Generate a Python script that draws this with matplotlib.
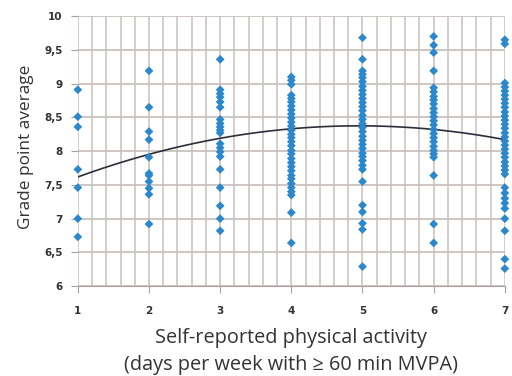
import numpy as np
import matplotlib
matplotlib.use("Agg")
import matplotlib.pyplot as plt
from matplotlib.ticker import MultipleLocator, FuncFormatter

# Data (days per week -> GPA values)
gpa_1 = [8.91, 8.51, 8.36, 7.73, 7.46, 7.00, 6.73]
gpa_2 = [9.19, 8.65, 8.29, 8.17, 7.91, 7.67, 7.64, 7.55, 7.45, 7.36, 6.92]
gpa_3 = [9.36, 8.91, 8.85, 8.80, 8.73, 8.65, 8.47, 8.41, 8.36, 8.31, 8.27,
         8.11, 8.05, 7.99, 7.92, 7.73, 7.46, 7.19, 7.00, 6.82]
gpa_4 = [9.10, 9.05, 8.99, 8.83, 8.78, 8.73, 8.67, 8.61, 8.55, 8.49, 8.43,
         8.37, 8.31, 8.25, 8.20, 8.14, 8.08, 8.01, 7.96, 7.89, 7.83, 7.77,
         7.71, 7.64, 7.59, 7.52, 7.46, 7.40, 7.35, 7.09, 6.64]
gpa_5 = [9.68, 9.36, 9.19, 9.14, 9.09, 9.03, 8.96, 8.90, 8.84, 8.78, 8.72,
         8.66, 8.60, 8.53, 8.47, 8.41, 8.35, 8.29, 8.22, 8.16, 8.10, 8.04,
         7.97, 7.92, 7.86, 7.79, 7.73, 7.55, 7.20, 7.10, 6.93, 6.84, 6.29]
gpa_6 = [9.70, 9.57, 9.46, 9.19, 8.94, 8.88, 8.81, 8.76, 8.70, 8.63, 8.57,
         8.51, 8.45, 8.39, 8.32, 8.26, 8.20, 8.14, 8.07, 8.01, 7.96, 7.91,
         7.64, 6.92, 6.64]
gpa_7 = [9.65, 9.59, 9.01, 8.95, 8.89, 8.83, 8.77, 8.71, 8.65, 8.58, 8.52,
         8.46, 8.40, 8.34, 8.27, 8.21, 8.15, 8.09, 8.03, 7.97, 7.91, 7.84,
         7.78, 7.72, 7.66, 7.46, 7.38, 7.30, 7.23, 7.15, 7.00, 6.82, 6.40, 6.26]
days = [1, 2, 3, 4, 5, 6, 7]
groups = [gpa_1, gpa_2, gpa_3, gpa_4, gpa_5, gpa_6, gpa_7]

# Trend line values read at each day
trend_days = [1, 2, 3, 4, 5, 6, 7]
trend_gpa = [7.62, 7.95, 8.19, 8.33, 8.38, 8.32, 8.17]

ylabel_text = 'Grade point average'
xlabel_line1 = 'Self-reported physical activity'
xlabel_line2 = '(days per week with \u2265 60 min MVPA)'

fig = plt.figure(figsize=(5.12, 3.76), dpi=100)
ax = fig.add_axes([0.152, 0.239, 0.834, 0.718])

xs = np.concatenate([[d] * len(g) for d, g in zip(days, groups)])
ys = np.concatenate(groups)

grid_c = '#c9c1bd'
ax.set_xlim(1, 7)
ax.set_ylim(6, 10)
ax.xaxis.set_major_locator(MultipleLocator(1))
ax.xaxis.set_minor_locator(MultipleLocator(0.2))
ax.yaxis.set_major_locator(MultipleLocator(0.5))
ax.grid(True, which='both', axis='x', color=grid_c, lw=1.1)
ax.grid(True, which='major', axis='y', color=grid_c, lw=1.3)
ax.set_axisbelow(True)
for s in ['top', 'right', 'left']:
    ax.spines[s].set_visible(False)
ax.spines['bottom'].set_color('#a9a2a0')
ax.tick_params(axis='x', which='major', length=5, color='#a9a2a0', pad=9)
ax.tick_params(axis='x', which='minor', length=0)
ax.tick_params(axis='y', length=5, color='#a9a2a0', pad=6)

coef = np.polyfit(trend_days, trend_gpa, 2)
xx = np.linspace(1, 7, 200)
ax.plot(xx, np.polyval(coef, xx), color='#2b2f3a', lw=1.2, zorder=3)

ax.scatter(xs, ys, marker='D', s=20, color='#2b88cc', edgecolors='none',
           zorder=4, clip_on=False)

fmt = FuncFormatter(lambda v, p: (f"{v:g}").replace('.', ','))
ax.yaxis.set_major_formatter(fmt)
for lab in ax.get_xticklabels() + ax.get_yticklabels():
    lab.set_fontweight('bold')
    lab.set_fontsize(7.5)
    lab.set_color('#333333')

fig.text(26 / 512, 1 - 147 / 376, ylabel_text, rotation=90, fontsize=12.4,
         color='#333333', family='Open Sans', ha='center', va='center')
fig.text(291 / 512, 1 - 338 / 376, xlabel_line1, fontsize=14.3,
         color='#333333', family='Open Sans', ha='center', va='center')
fig.text(291 / 512, 1 - 365 / 376, xlabel_line2, fontsize=14.3,
         color='#333333', family='Open Sans', ha='center', va='center')

fig.savefig('out.png', dpi=100)
